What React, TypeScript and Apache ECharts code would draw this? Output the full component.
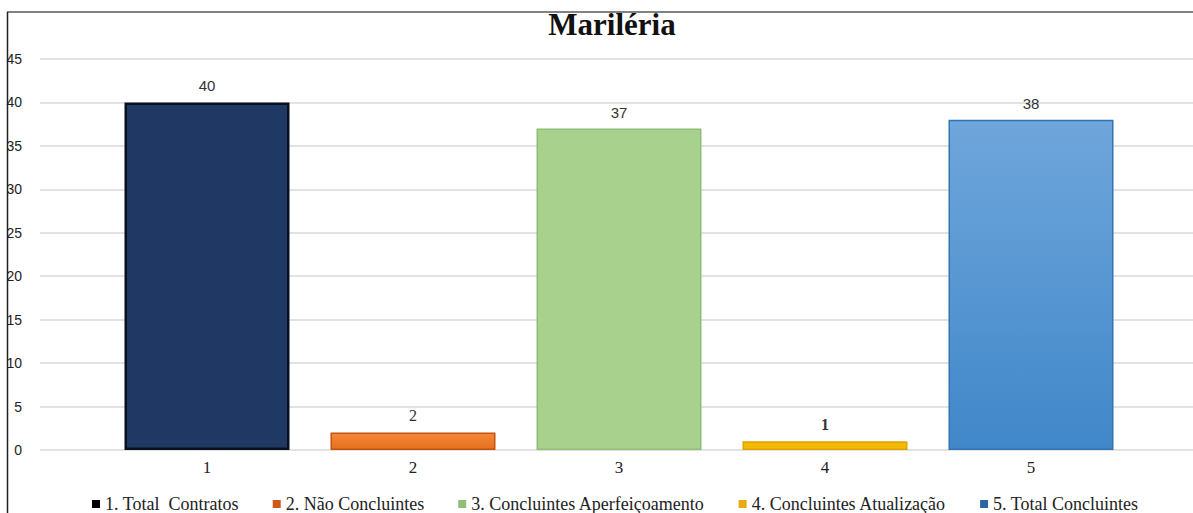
import React, { useEffect, useRef } from "react";
import * as echarts from "echarts";

const categories = ["1", "2", "3", "4", "5"];
const seriesNames = [
  "1. Total  Contratos",
  "2. Não Concluintes",
  "3. Concluintes Aperfeiçoamento",
  "4. Concluintes Atualização",
  "5. Total Concluintes",
];
const values = [40, 2, 37, 1, 38];
const yTicks = { min: 0, max: 45, interval: 5 };
const titleText = "Mariléria";

const fills: any[] = [
  "#203864",
  new echarts.graphic.LinearGradient(0, 0, 0, 1, [
    { offset: 0, color: "#F4883A" },
    { offset: 1, color: "#E56F1C" },
  ]),
  "#A9D18E",
  "#F2B900",
  new echarts.graphic.LinearGradient(0, 0, 0, 1, [
    { offset: 0, color: "#6FA6DB" },
    { offset: 1, color: "#4087C9" },
  ]),
];
const borders = ["#0A0F1F", "#C4520C", "#90BE73", "#E0A400", "#3174B4"];
const legendIcons = ["#000000", "#D0581A", "#8FC07A", "#E8AA0C", "#2C64A4"];
const labelFonts = ["Liberation Sans", "Liberation Serif", "Liberation Sans", "Liberation Serif", "Liberation Sans"];

export default function App() {
  const ref = useRef<HTMLDivElement>(null);
  useEffect(() => {
    if (!ref.current) return;
    const chart = echarts.init(ref.current, undefined, { renderer: "svg" });
    const series = seriesNames.map((name, i) => ({
      name,
      type: "bar",
      stack: "all",
      xAxisIndex: 1,
      yAxisIndex: 1,
      barWidth: 165,
      data: categories.map((_, j) => (j === i ? values[i] : "-")),
      itemStyle: { color: fills[i], borderColor: borders[i], borderWidth: i === 0 ? 2.5 : 1.5 },
      label: {
        show: true,
        position: "top",
        distance: 9,
        color: "#333333",
        fontFamily: labelFonts[i],
        fontSize: i === 1 || i === 3 ? 16 : 15,
        fontWeight: i === 3 ? "bold" : "normal",
      },
    }));
    chart.setOption({
      animation: false,
      backgroundColor: "#ffffff",
      title: {
        text: titleText,
        left: 607,
        textAlign: "center",
        top: 4,
        textStyle: { fontFamily: "Liberation Serif", fontSize: 31, fontWeight: "bold", color: "#111111" },
      },
      legend: {
        top: 490,
        left: 87,
        icon: "rect",
        itemWidth: 8,
        itemHeight: 8,
        itemGap: 34,
        textStyle: { fontFamily: "Liberation Serif", fontSize: 18, color: "#222222" },
        data: seriesNames.map((n, i) => ({ name: n, itemStyle: { color: legendIcons[i], borderWidth: 0 } })),
      },
      grid: [
        { left: 40, right: 0, top: 59, height: 391 },
        { left: 104, width: 1030, top: 59, height: 391 },
      ],
      xAxis: [
        { type: "value", gridIndex: 0, min: 0, max: 1, show: false },
        {
          type: "category",
          gridIndex: 1,
          data: categories,
          axisLine: { show: false },
          axisTick: { show: false },
          axisLabel: { fontFamily: "Liberation Serif", fontSize: 17, color: "#222222", margin: 9 },
        },
      ],
      yAxis: [
        {
          type: "value",
          gridIndex: 0,
          min: yTicks.min,
          max: yTicks.max,
          interval: yTicks.interval,
          axisLine: { show: false },
          axisTick: { show: false },
          axisLabel: { fontFamily: "Liberation Sans", fontSize: 14, color: "#222222", margin: 18 },
          splitLine: { lineStyle: { color: "#D9D9D9", width: 1.5 } },
        },
        {
          type: "value",
          gridIndex: 1,
          min: yTicks.min,
          max: yTicks.max,
          interval: yTicks.interval,
          show: false,
          splitLine: { show: false },
        },
      ],
      graphic: [
        { type: "line", shape: { x1: 7, y1: 12, x2: 1193, y2: 12 }, style: { stroke: "#595959", lineWidth: 1.5 }, z: 100 },
        { type: "line", shape: { x1: 7.5, y1: 12, x2: 7.5, y2: 513 }, style: { stroke: "#222222", lineWidth: 1.5 }, z: 100 },
      ],
      series,
    });
    return () => chart.dispose();
  }, []);
  return <div ref={ref} style={{ position: "fixed", left: 0, top: 0, width: 1193, height: 513 }} />;
}
